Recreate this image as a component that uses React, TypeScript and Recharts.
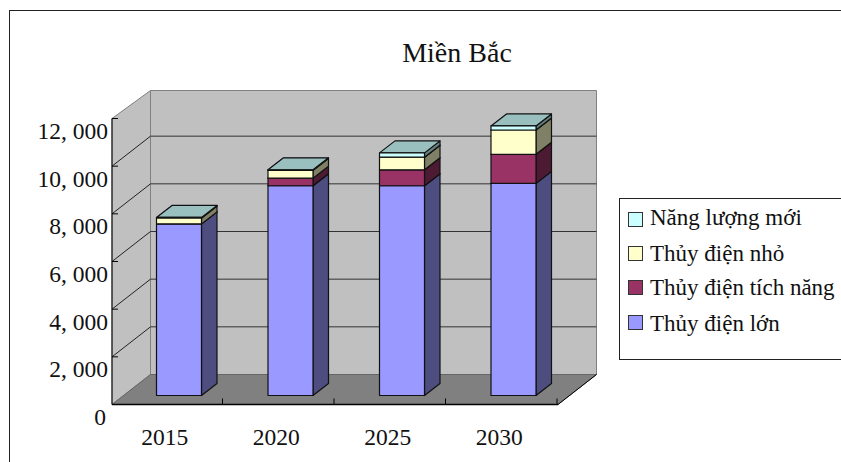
import React from 'react';
import { BarChart, Bar, XAxis, YAxis, CartesianGrid, Legend } from 'recharts';

const categories = ['2015', '2020', '2025', '2030'];
const largeHydro = [7200, 8800, 8800, 8900];
const pumpedHydro = [0, 320, 670, 1220];
const smallHydro = [250, 330, 530, 1020];
const newEnergy = [20, 20, 180, 170];
const yTicks = [0, 2000, 4000, 6000, 8000, 10000, 12000];
const yTickLabels = ['0', '2, 000', '4, 000', '6, 000', '8, 000', '10, 000', '12, 000'];

const rows = categories.map((year, i) => ({
  year,
  large: largeHydro[i],
  pumped: pumpedHydro[i],
  small: smallHydro[i],
  fresh: newEnergy[i],
}));

const W = 841;
const H = 462;
const FONT = '"Liberation Serif", "Times New Roman", serif';

// The plot rectangle is the plane of the bars' front faces.
const PLOT = { left: 123.5, right: 569.5, top: 109.5, bottom: 395.5 };
// Shifts from that plane to the front edge of the floor and to the back wall.
const FRONT = { dx: -11.5, dy: 9 };
const BACK = { dx: 27, dy: -21 };
// Depth of a bar.
const DEPTH = { dx: 15.5, dy: -12 };
const WALL_TOP = 90.5;
const AXIS_SIZE = 1;

const shade = (hex: string, k: number) => {
  const n = parseInt(hex.slice(1), 16);
  const c = [(n >> 16) & 255, (n >> 8) & 255, n & 255].map((v) => Math.round(v * k));
  return `rgb(${c[0]},${c[1]},${c[2]})`;
};

const pts = (list: number[][]) => list.map((p) => p.join(',')).join(' ');

// Extruded bar segment: front face, right side and top.
const Bar3D = (props: any) => {
  const { x, y, width, height, fill } = props;
  const { dx, dy } = DEPTH;
  const r = x + width;
  const b = y + height;
  return (
    <g stroke="#111" strokeWidth={1.2} strokeLinejoin="round">
      <polygon points={pts([[r, y], [r + dx, y + dy], [r + dx, b + dy], [r, b]])} fill={shade(fill, 0.5)} />
      <polygon points={pts([[x, y], [x + dx, y + dy], [r + dx, y + dy], [r, y]])} fill={shade(fill, 0.75)} />
      <rect x={x} y={y} width={width} height={height} fill={fill} />
    </g>
  );
};

// Side wall diagonal plus back wall gridline for one value.
const GridLine = (props: any) => {
  const { x1, x2, y1 } = props;
  const fx = x1 + FRONT.dx;
  const fy = y1 + FRONT.dy;
  const bx = x1 + BACK.dx;
  const by = y1 + BACK.dy;
  if (y1 <= PLOT.top + 1 || y1 >= PLOT.bottom - 1) return <g key={props.key ?? props.index} />;
  return (
    <g key={props.key ?? props.index} fill="none">
      <line x1={fx} y1={fy} x2={bx} y2={by} stroke="#222" />
      <line x1={bx} y1={by} x2={x2 + BACK.dx} y2={by} stroke="#333" />
    </g>
  );
};

// Walls, floor, outer frame and title of the 3-D scene, painted under the chart layer.
const Scene = () => {
  const fl = PLOT.left + FRONT.dx;
  const fr = PLOT.right + FRONT.dx;
  const fb = PLOT.bottom + FRONT.dy;
  const ft = PLOT.top + FRONT.dy;
  const bl = PLOT.left + BACK.dx;
  const br = PLOT.right + BACK.dx;
  const bb = PLOT.bottom + BACK.dy;
  return (
    <svg width={W} height={H} style={{ position: 'absolute', left: 0, top: 0 }}>
      <rect x={9.5} y={10.5} width={W + 40} height={H + 40} fill="none" stroke="#222" />
      <text x={457} y={62} textAnchor="middle" fontFamily={FONT} fontSize={28} fill="#111">
        Miền Bắc
      </text>
      <polygon points={pts([[bl, WALL_TOP], [br, WALL_TOP], [br, bb], [bl, bb]])} fill="#c0c0c0" stroke="#808080" />
      <polygon points={pts([[fl, ft], [bl, WALL_TOP], [bl, bb], [fl, fb]])} fill="#c0c0c0" stroke="#808080" />
      <polygon points={pts([[fl, fb], [bl, bb], [br, bb], [fr, fb]])} fill="#808080" stroke="#666" />
      <line x1={fl} y1={ft} x2={fl} y2={fb} stroke="#000" />
      <line x1={fl} y1={fb} x2={fr} y2={fb} stroke="#000" strokeWidth={1.5} />
      <line x1={fr} y1={fb} x2={br} y2={bb} stroke="#000" />
    </svg>
  );
};

const YTick = (props: any) => {
  const { y, index } = props;
  const fx = PLOT.left + FRONT.dx;
  const fy = y + FRONT.dy;
  const isZero = index === 0;
  return (
    <g>
      {!isZero && <line x1={fx} y1={fy} x2={fx + 6} y2={fy} stroke="#000" />}
      <text
        x={isZero ? 106 : 108}
        y={fy + 20.5}
        textAnchor="end"
        fontFamily={FONT}
        fontSize={23.5}
        fill="#111"
      >
        {yTickLabels[index]}
      </text>
    </g>
  );
};

const XTick = (props: any) => {
  const { x, payload } = props;
  const fb = PLOT.bottom + FRONT.dy;
  const edge = x + FRONT.dx - 1 + (PLOT.right - PLOT.left) / categories.length / 2;
  return (
    <g>
      <line x1={edge} y1={fb} x2={edge} y2={fb - 6} stroke="#000" />
      <text x={x - 14.5} y={445} textAnchor="middle" fontFamily={FONT} fontSize={23.5} fill="#111">
        {payload.value}
      </text>
    </g>
  );
};

// Legend box, listing the stack from top to bottom.
const legendTop = 198;
const legendTextY = [218, 254, 288, 324];
const legendSwatchY = [219, 253, 287, 322];
const LegendBox = ({ payload }: any) => {
  const items = [...(payload ?? [])].reverse();
  return (
    <div
      style={{
        position: 'relative',
        width: 240,
        height: 162,
        boxSizing: 'border-box',
        border: '1px solid #222',
        background: '#fff',
        fontFamily: FONT,
        fontSize: 23,
        color: '#111',
      }}
    >
      {items.map((item: any, i: number) => (
        <React.Fragment key={item.value}>
          <span
            style={{
              position: 'absolute',
              left: 8,
              top: legendSwatchY[i] - legendTop - 8,
              width: 13,
              height: 13,
              background: item.color,
              border: '1px solid #333',
            }}
          />
          <span
            style={{
              position: 'absolute',
              left: 30,
              top: legendTextY[i] - legendTop - 16,
              lineHeight: '30px',
              whiteSpace: 'nowrap',
            }}
          >
            {item.value}
          </span>
        </React.Fragment>
      ))}
    </div>
  );
};

export default function App() {
  return (
    <div style={{ position: 'absolute', left: 0, top: 0, width: W, height: H, overflow: 'hidden', background: '#fff' }}>
      <Scene />
      <div style={{ position: 'absolute', left: 0, top: 0 }}>
        <BarChart
          width={W}
          height={H}
          data={rows}
          margin={{
            top: PLOT.top,
            right: W - PLOT.right,
            bottom: H - PLOT.bottom - AXIS_SIZE,
            left: PLOT.left - AXIS_SIZE,
          }}
          barSize={45}
        >
          <CartesianGrid vertical={false} horizontal={GridLine as any} />
          <XAxis dataKey="year" height={AXIS_SIZE} axisLine={false} tickLine={false} tick={XTick} interval={0} />
          <YAxis width={AXIS_SIZE} domain={[0, 12000]} ticks={yTicks} axisLine={false} tickLine={false} tick={YTick} interval={0} />
          <Legend
            layout="horizontal"
            verticalAlign="middle"
            itemSorter={null as any}
            content={LegendBox}
            wrapperStyle={{ position: 'absolute', left: 619, top: legendTop, width: 240, height: 162 }}
          />
          <Bar dataKey="large" name="Thủy điện lớn" stackId="s" fill="#9999ff" shape={Bar3D} isAnimationActive={false} />
          <Bar dataKey="pumped" name="Thủy điện tích năng" stackId="s" fill="#993366" shape={Bar3D} isAnimationActive={false} />
          <Bar dataKey="small" name="Thủy điện nhỏ" stackId="s" fill="#ffffcc" shape={Bar3D} isAnimationActive={false} />
          <Bar dataKey="fresh" name="Năng lượng mới" stackId="s" fill="#ccffff" shape={Bar3D} isAnimationActive={false} />
        </BarChart>
      </div>
    </div>
  );
}
